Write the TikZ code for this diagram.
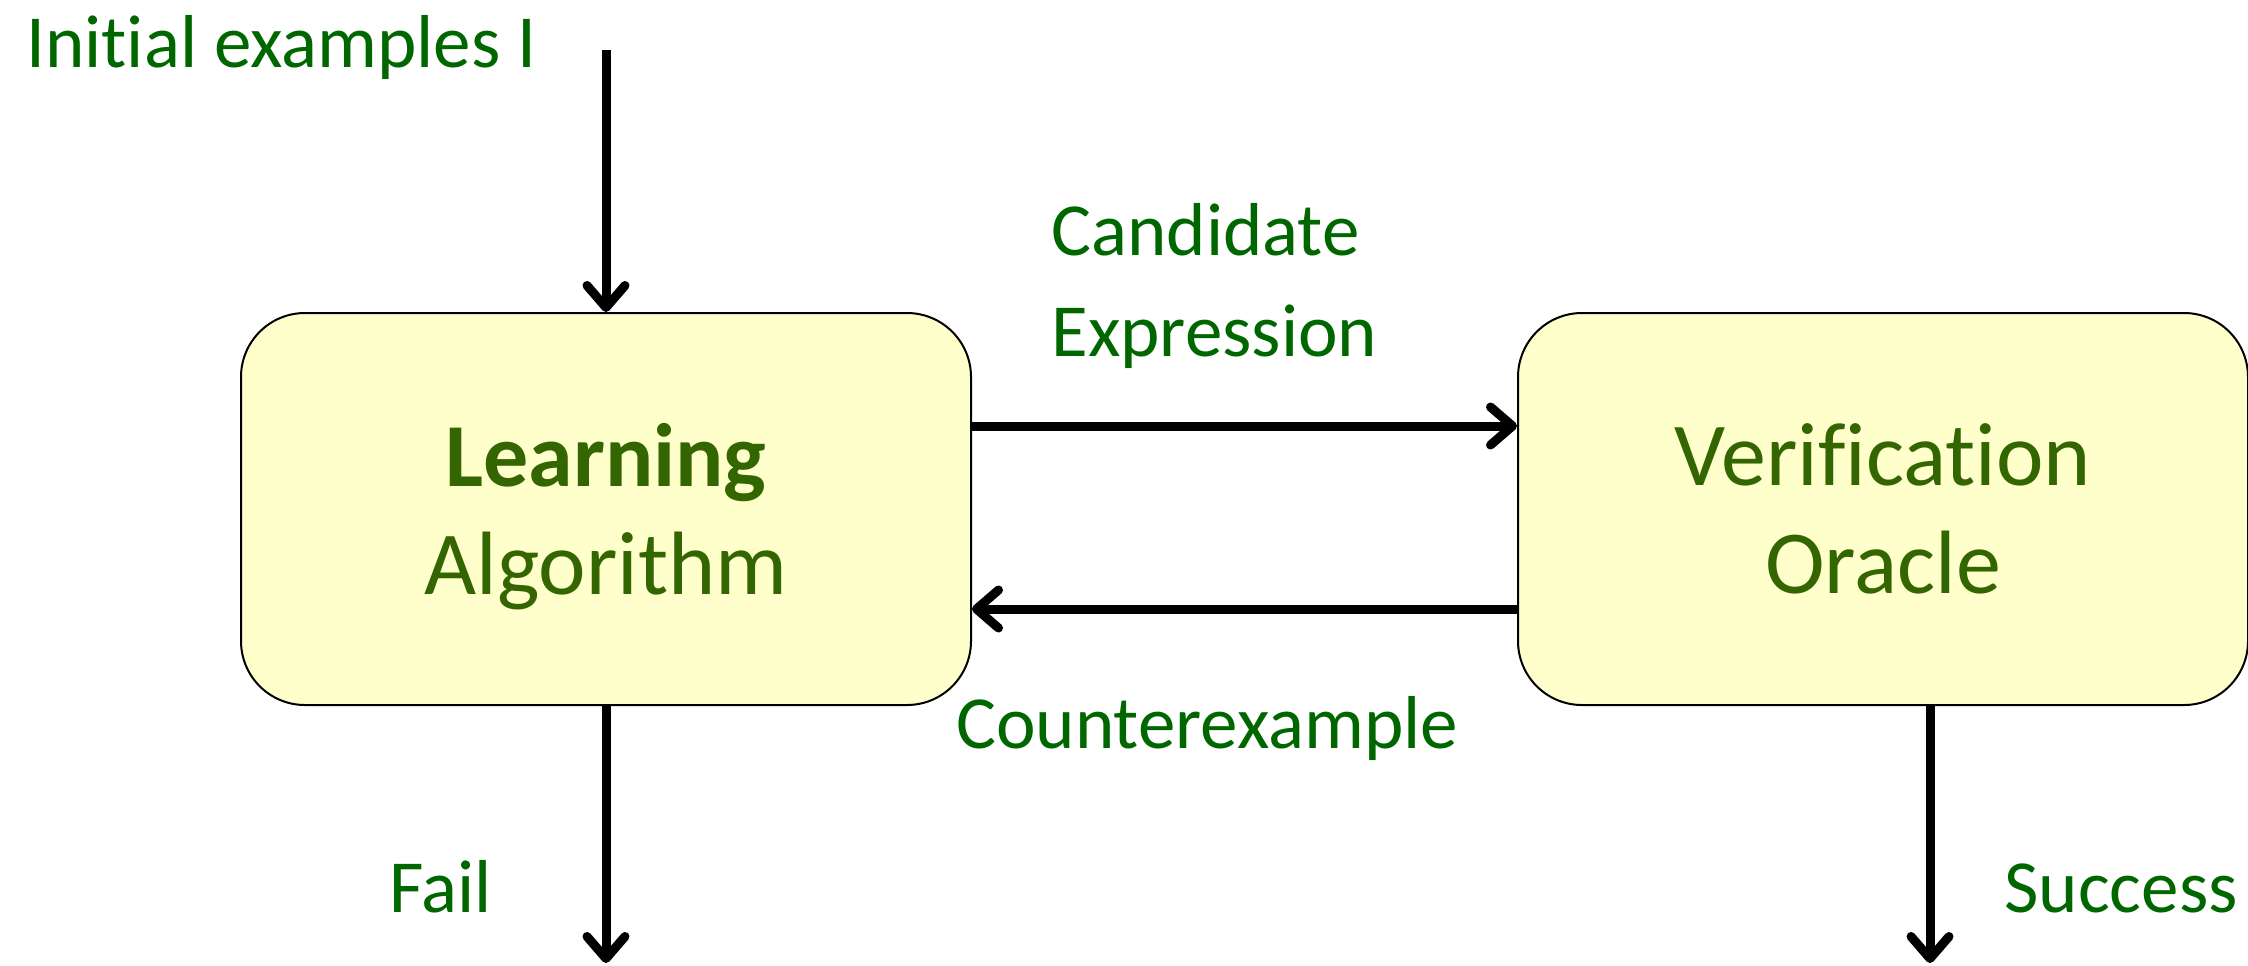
\documentclass[tikz,border=0pt]{standalone}
\usepackage{fontspec}
\setmainfont[Ligatures={NoCommon,NoRequired,NoContextual}]{Carlito}
\usetikzlibrary{arrows.meta}
\definecolor{boxfill}{HTML}{FFFFCC}
\definecolor{boxtext}{HTML}{336600}
\definecolor{labeltext}{HTML}{006600}
\tikzset{
  unitbox/.style={draw=black, line width=1pt, fill=boxfill, rounded corners=32pt,
    minimum width=365pt, minimum height=196pt, inner sep=0pt, text depth=0pt,
    align=center, text=boxtext, font=\fontsize{45}{54}\selectfont},
  lbl/.style={text=labeltext, font=\fontsize{37.5}{50}\selectfont, inner sep=0pt, anchor=base west},
  flow/.style={line width=4.5pt, -{Straight Barb[length=11pt,width=19pt,line cap=round,line join=round]}}
}
\begin{document}
\begin{tikzpicture}[x=0.5pt, y=-0.5pt]
  \useasboundingbox (0,0) rectangle (2248,965);

  % the two stages of the loop
  \node[unitbox] (learn) at (606,509) {\textbf{Learning}\\Algorithm};
  \node[unitbox] (oracle) at (1883,509) {Verification\\Oracle};

  % labels
  \node[lbl] (init) at (26,67) {Initial examples I};
  \node[lbl] (cand) at (1051,255) {Candidate};
  \node[lbl] (expr) at (1051,356) {Expression};
  \node[lbl] (cex) at (956,748) {Counterexample};
  \node[lbl] (fail) at (389,912) {Fail};
  \node[lbl] (succ) at (2004,912) {Success};

  % free ends and levels of the connectors
  \coordinate (start) at (606,50);
  \coordinate (failend) at (606,963);
  \coordinate (succend) at (1930,963);
  \coordinate (upper) at (0,426);
  \coordinate (lower) at (0,609);

  % connectors
  \draw[flow] (start) -- (learn.north);
  \draw[flow] (learn.east |- upper) -- (oracle.west |- upper);
  \draw[flow] (oracle.west |- lower) -- (learn.east |- lower);
  \draw[flow] (learn.south) -- (failend);
  \draw[flow] (succend |- oracle.south) -- (succend);
\end{tikzpicture}
\end{document}
